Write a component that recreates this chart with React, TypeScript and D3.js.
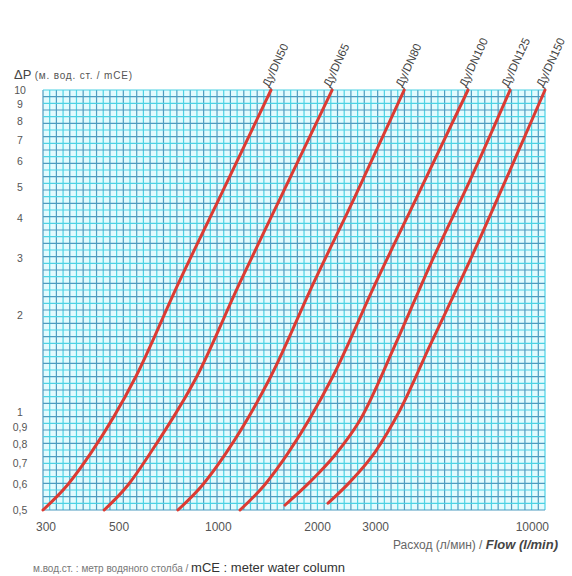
import React from "react";
import * as d3 from "d3";

// ---- data ----
const flowTicks = [300, 500, 1000, 2000, 3000, 10000];
const flowTickLabels = ["300", "500", "1000", "2000", "3000", "10000"];
const dpTicks = [0.5, 0.6, 0.7, 0.8, 0.9, 1, 2, 3, 4, 5, 6, 7, 8, 9, 10];
const dpTickLabels = ["0,5", "0,6", "0,7", "0,8", "0,9", "1", "2", "3", "4", "5", "6", "7", "8", "9", "10"];

const seriesNames = ["Ду/DN50", "Ду/DN65", "Ду/DN80", "Ду/DN100", "Ду/DN125", "Ду/DN150"];

const dn50Flow = [300, 357, 419, 575, 770, 1026, 1475];
const dn50Dp = [0.5, 0.6, 0.75, 1.3, 2.5, 4.6, 10];
const dn65Flow = [460, 545, 640, 880, 1180, 1570, 2260];
const dn65Dp = [0.5, 0.6, 0.76, 1.3, 2.5, 4.6, 10];
const dn80Flow = [770, 917, 1077, 1475, 1977, 2633, 3740];
const dn80Dp = [0.5, 0.6, 0.75, 1.3, 2.5, 4.6, 10];
const dn100Flow = [1188, 1414, 1661, 2275, 3050, 4062, 5840];
const dn100Dp = [0.5, 0.6, 0.75, 1.3, 2.5, 4.6, 10];
const dn125Flow = [1627, 1937, 2307, 2747, 3508, 4482, 5926, 7836];
const dn125Dp = [0.518, 0.611, 0.74, 0.95, 1.62, 2.87, 5.26, 10];
const dn150Flow = [2197, 2562, 3051, 3633, 4482, 5926, 7836, 10000];
const dn150Dp = [0.525, 0.611, 0.756, 1.02, 1.62, 2.97, 5.65, 10];

const seriesFlows = [dn50Flow, dn65Flow, dn80Flow, dn100Flow, dn125Flow, dn150Flow];
const seriesDps = [dn50Dp, dn65Dp, dn80Dp, dn100Dp, dn125Dp, dn150Dp];

// graph-paper mesh counts
const gridCols = 75;
const gridRows = 63;

const W = 572;
const H = 576;
const left = 43;
const right = 545;
const top = 90;
const bottom = 510;

export default function App() {
  const x = d3.scaleLog().domain([300, 10000]).range([left, right]);
  const y = d3.scaleLog().domain([0.5, 10]).range([bottom, top]);
  const gx = d3.scaleLinear().domain([0, gridCols]).range([left, right]);
  const gy = d3.scaleLinear().domain([0, gridRows]).range([bottom, top]);

  const line = d3
    .line<[number, number]>()
    .x((d) => x(d[0]))
    .y((d) => y(d[1]))
    .curve(d3.curveMonotoneX);

  const series = seriesNames.map((name, i) => ({
    name,
    pts: seriesFlows[i].map((f, j) => [f, seriesDps[i][j]] as [number, number]),
  }));

  const sans = "'Liberation Sans', Arial, sans-serif";

  return (
    <svg
      width={W}
      height={H}
      style={{ position: "absolute", left: 0, top: 0, background: "#fff" }}
    >
      <rect x={left} y={top} width={right - left} height={bottom - top} fill="#e2fbfe" />
      {d3.range(0, gridCols + 1).map((i) => (
        <line
          key={"v" + i}
          x1={gx(i)}
          x2={gx(i)}
          y1={top}
          y2={bottom}
          stroke={i % 2 === 0 ? "#4d9cc0" : "#4cd2e4"}
          strokeWidth={1.2}
        />
      ))}
      {d3.range(0, gridRows + 1).map((i) => (
        <line
          key={"h" + i}
          x1={left}
          x2={right}
          y1={gy(i)}
          y2={gy(i)}
          stroke={i % 2 === 0 ? "#4d9cc0" : "#4cd2e4"}
          strokeWidth={1.2}
        />
      ))}

      {series.map((s) => (
        <path key={s.name} d={line(s.pts) || ""} fill="none" stroke="#dc3b33" strokeWidth={3} strokeLinecap="round" />
      ))}

      {series.map((s) => {
        const last = s.pts[s.pts.length - 1];
        const px = x(last[0]);
        const py = y(last[1]);
        return (
          <text
            key={"l" + s.name}
            transform={`translate(${px - 2},${py - 2}) rotate(-65)`}
            fontFamily={sans}
            fontSize={11.5}
            fill="#444"
          >
            {s.name}
          </text>
        );
      })}

      {dpTicks.map((t, i) => (
        <text
          key={"yt" + i}
          x={20}
          y={y(t)}
          dy="0.35em"
          textAnchor="middle"
          fontFamily={sans}
          fontSize={10.5}
          fill="#555"
        >
          {dpTickLabels[i]}
        </text>
      ))}

      {flowTicks.map((t, i) => (
        <text
          key={"xt" + i}
          x={i === flowTicks.length - 1 ? x(t) + 4 : x(t) + 3}
          y={531}
          textAnchor={i === flowTicks.length - 1 ? "end" : "middle"}
          fontFamily={sans}
          fontSize={12}
          fill="#555"
        >
          {flowTickLabels[i]}
        </text>
      ))}

      <text x={14} y={79} fontFamily={sans} fill="#444">
        <tspan fontSize={13}>ΔP </tspan>
        <tspan fontSize={10} letterSpacing={0.8} fill="#555">(м. вод. ст. / mCE)</tspan>
      </text>

      <text x={558} y={549} textAnchor="end" fontFamily={sans} fill="#555">
        <tspan fontSize={12} fill="#666">Расход (л/мин) / </tspan>
        <tspan fontSize={13} fontStyle="italic" fontWeight="bold" fill="#444">Flow (l/min)</tspan>
      </text>

      <text x={33} y={572} fontFamily={sans} fill="#555">
        <tspan fontSize={10} fill="#777">м.вод.ст. : метр водяного столба / </tspan>
        <tspan fontSize={13} fill="#333">mCE : meter water column</tspan>
      </text>
    </svg>
  );
}
